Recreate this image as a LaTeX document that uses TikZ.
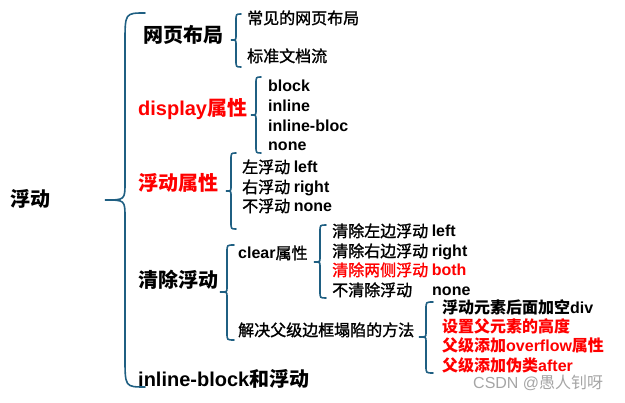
\documentclass[tikz,border=0pt]{standalone}
\usepackage{fontspec}
\setmainfont{Noto Sans CJK SC}
\newfontfamily\latin{Liberation Sans}
\newfontfamily\cjkmid[FakeBold=1.4]{Noto Sans CJK SC}
\newcommand{\en}[1]{{\latin\bfseries #1}}
\definecolor{bracecol}{RGB}{31,95,130}
\definecolor{markgray}{RGB}{165,165,165}
% spine x, top y, tip y, bottom y, width, radius
\newcommand{\curlybrace}[6]{%
  \draw[brace line] (#1+#5,#2) .. controls (#1,#2) .. (#1,#2+#6)
    -- (#1,#3-0.6*#6) .. controls (#1,#3) .. (#1-#5,#3)
    .. controls (#1,#3) .. (#1,#3+0.6*#6)
    -- (#1,#4-#6) .. controls (#1,#4) .. (#1+#5,#4);}

\begin{document}
\begin{tikzpicture}[x=1pt,y=-1pt,
    every node/.style={anchor=west, inner sep=0pt, text height=1em, text depth=0em},
    head/.style={font=\fontsize{20}{24}\selectfont\bfseries},
    item/.style={font=\fontsize{16}{19}\selectfont\cjkmid},
    itembold/.style={font=\fontsize{16}{19}\selectfont\bfseries},
    hot/.style={text=red},
    brace line/.style={draw=bracecol, line width=1.6pt, line cap=round}]
    \useasboundingbox (0,0) rectangle (625,403);

    \node[head] (float) at (10,202) {浮动};

    \curlybrace{125}{13}{200}{387}{20}{30}

    \node[head] (layout) at (143,38) {网页布局};
    \node[head, hot] (display) at (138,111) {\en{display}属性};
    \node[head, hot] (floatattr) at (138,186) {浮动属性};
    \node[head] (clear) at (138,283) {清除浮动};
    \node[head] (inlineblock) at (138,382) {\en{inline-block}和浮动};

    % 网页布局
    \curlybrace{236}{14}{40}{67}{5}{7}
    \node[item] (common) at (247,19) {常见的网页布局};
    \node[item] (flow) at (247,57) {标准文档流};

    % display
    \curlybrace{256}{77}{115}{153}{5}{7}
    \node[item] (block) at (268,87) {\en{block}};
    \node[item] (inline) at (268,107) {\en{inline}};
    \node[item] (inlinebloc) at (268,127) {\en{inline-bloc}};
    \node[item] (dnone) at (268,146) {\en{none}};

    % float
    \curlybrace{231}{153}{191}{229}{5}{7}
    \node[item] (left) at (242,168) {左浮动 \en{left}};
    \node[item] (right) at (242,188) {右浮动 \en{right}};
    \node[item] (fnone) at (242,207) {不浮动 \en{none}};

    % clear
    \curlybrace{227}{245}{292}{340}{7}{7}
    \node[item] (clearattr) at (238,254) {\en{clear}属性};
    \node[item] (collapse) at (238,331) {解决父级边框塌陷的方法};

    \curlybrace{320}{225}{262}{298}{6}{7}
    \node[item] (cleft) at (332,232) {清除左边浮动 \en{left}};
    \node[item] (cright) at (332,252) {清除右边浮动 \en{right}};
    \node[item, hot] (cboth) at (332,271) {清除两侧浮动 \en{both}};
    \node[item] (cnone) at (332,291) {不清除浮动\hspace{20pt}\en{none}};

    \curlybrace{426}{302}{337}{373}{7}{7}
    \node[itembold] (emptydiv) at (442,309) {浮动元素后面加空\en{div}};
    \node[itembold, hot] (height) at (442,328) {设置父元素的高度};
    \node[itembold, hot] (overflow) at (442,347) {父级添加\en{overflow}属性};
    \node[itembold, hot] (after) at (442,367) {父级添加伪类\en{after}};

    \node[font=\fontsize{16}{19}\selectfont, text=markgray] (mark) at (473,384) {{\latin CSDN @}愚人钊呀};
\end{tikzpicture}
\end{document}
